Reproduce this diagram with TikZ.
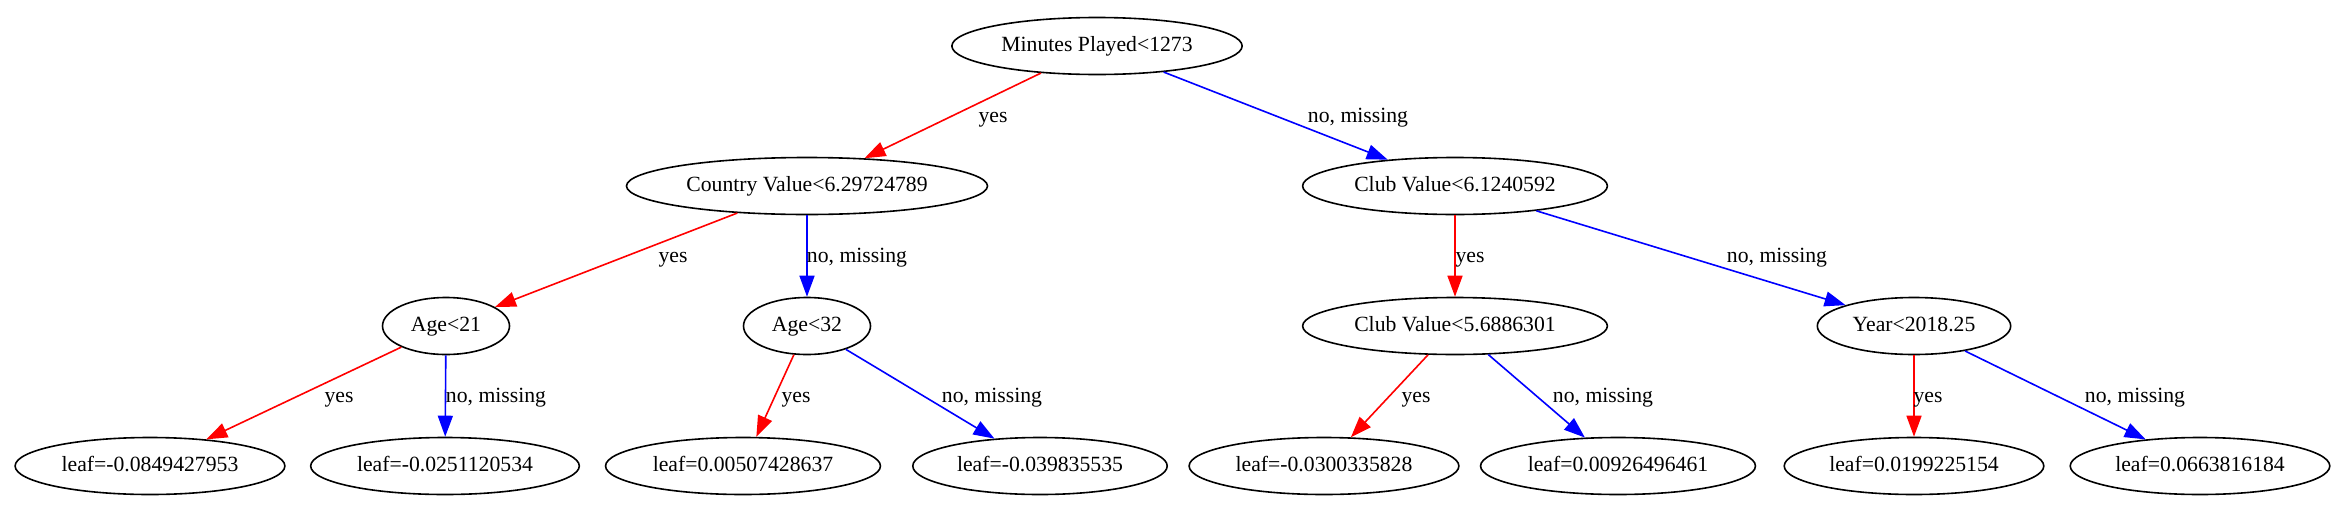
\documentclass[tikz,border=0pt]{standalone}
\usepackage{fontspec}
\setmainfont{Liberation Serif}
\usetikzlibrary{arrows.meta}
\usetikzlibrary{shapes.geometric}

\tikzset{
	split/.style={draw,ellipse,line width=1.6pt,inner xsep=7pt,inner ysep=0pt,
		minimum width=127pt,minimum height=57pt,text height=15pt,text depth=5pt},
	yesedge/.style={red,line width=1.6pt,-{Triangle[length=21pt,width=15pt]}},
	noedge/.style={blue,line width=1.6pt,-{Triangle[length=21pt,width=15pt]}},
	lbl/.style={inner sep=0pt,text height=15pt,text depth=5pt}
}

\begin{document}
\begin{tikzpicture}[x=1pt,y=-1pt,font=\fontsize{21.7}{26}\selectfont]
	\useasboundingbox (0,0) rectangle (2345,509);
	
	\node[split] (mins) at (1097,46) {Minutes Played<1273};
	
	\node[split] (country) at (807,186) {Country Value<6.29724789};
	\node[split] (clubA) at (1455,186) {Club Value<6.1240592};
	
	\node[split] (ageA) at (446,326) {Age<21};
	\node[split] (ageB) at (807,326) {Age<32};
	\node[split] (clubB) at (1455,326) {Club Value<5.6886301};
	\node[split] (year) at (1914,326) {Year<2018.25};
	
	\node[split] (leafA) at (150,466) {leaf=-0.0849427953};
	\node[split] (leafB) at (445,466) {leaf=-0.0251120534};
	\node[split] (leafC) at (743,466) {leaf=0.00507428637};
	\node[split] (leafD) at (1040,466) {leaf=-0.039835535};
	\node[split] (leafE) at (1324,466) {leaf=-0.0300335828};
	\node[split] (leafF) at (1618,466) {leaf=0.00926496461};
	\node[split] (leafG) at (1914,466) {leaf=0.0199225154};
	\node[split] (leafH) at (2200,466) {leaf=0.0663816184};
	
	\draw[yesedge] (mins) -- (country);
	\draw[noedge] (mins) -- (clubA);
	\draw[yesedge] (country) -- (ageA);
	\draw[noedge] (country) -- (ageB);
	\draw[yesedge] (clubA) -- (clubB);
	\draw[noedge] (clubA) -- (year);
	\draw[yesedge] (ageA) -- (leafA);
	\draw[noedge] (ageA) -- (leafB);
	\draw[yesedge] (ageB) -- (leafC);
	\draw[noedge] (ageB) -- (leafD);
	\draw[yesedge] (clubB) -- (leafE);
	\draw[noedge] (clubB) -- (leafF);
	\draw[yesedge] (year) -- (leafG);
	\draw[noedge] (year) -- (leafH);
	
	\node[lbl] (minsyes) at (993,117) {yes};
	\node[lbl] (minsno) at (1358,117) {no, missing};
	\node[lbl] (countryyes) at (673,257) {yes};
	\node[lbl] (countryno) at (857,257) {no, missing};
	\node[lbl] (clubAyes) at (1470,257) {yes};
	\node[lbl] (clubAno) at (1777,257) {no, missing};
	\node[lbl] (ageAyes) at (339,397) {yes};
	\node[lbl] (ageAno) at (496,397) {no, missing};
	\node[lbl] (ageByes) at (796,397) {yes};
	\node[lbl] (ageBno) at (992,397) {no, missing};
	\node[lbl] (clubByes) at (1416,397) {yes};
	\node[lbl] (clubBno) at (1603,397) {no, missing};
	\node[lbl] (yearyes) at (1928,397) {yes};
	\node[lbl] (yearno) at (2135,397) {no, missing};
	
\end{tikzpicture}
\end{document}
